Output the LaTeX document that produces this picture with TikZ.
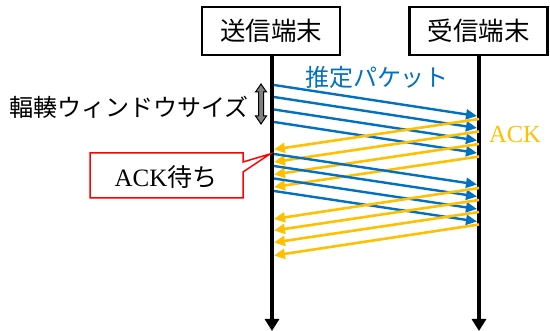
\documentclass[tikz,border=0pt]{standalone}
\usepackage{fontspec}
\setmainfont{Liberation Serif}
\newfontfamily\jp{Noto Sans CJK JP}
\usetikzlibrary{arrows.meta}
\definecolor{pblue}{HTML}{0070C0}
\definecolor{ackor}{HTML}{FFC000}
\definecolor{dgray}{HTML}{808080}
\tikzset{
  termbox/.style={draw=black, line width=2.5pt, minimum width=138pt, minimum height=48pt, inner sep=0pt, font=\jp\fontsize{25.5}{25.5}\selectfont},
  lifeline/.style={line width=3.5pt, -{Triangle[length=12pt,width=14pt]}},
  pkt/.style={pblue, line width=2.4pt, -{Triangle[length=11pt,width=10pt]}},
  ack/.style={ackor, line width=2.6pt, -{Triangle[length=11pt,width=10pt]}},
  lbl/.style={inner sep=0pt, font=\jp\fontsize{24}{24}\selectfont},
}
\begin{document}
\begin{tikzpicture}[x=1pt,y=-1pt]
\useasboundingbox (0,0) rectangle (550,331);
% terminals
\node[termbox] (snd) at (271,31) {送信端末};
\node[termbox] (rcv) at (478.5,31) {受信端末};
\coordinate (sndend) at (272,331);
\coordinate (rcvend) at (479,331);
\draw[lifeline] (snd.south -| sndend) -- (sndend);
\draw[lifeline] (rcv.south -| rcvend) -- (rcvend);
% labels
\node[lbl, text=pblue] (probe) at (377,77) {推定パケット};
\node[font=\fontsize{24.5}{24.5}\selectfont, text=ackor, inner sep=0pt] (acklbl) at (515,135) {ACK};
\node[lbl, anchor=east] (cwnd) at (249,107) {輻輳ウィンドウサイズ};
% window size double arrow
\draw[black, fill=dgray, line width=1pt] (261,84) -- (266.5,92) -- (263.5,92) -- (263.5,116) -- (266.5,116) -- (261,124) -- (255.5,116) -- (258.5,116) -- (258.5,92) -- (255.5,92) -- cycle;
% first window of probe packets
\foreach \a/\b in {85/116, 97/128, 109.5/140.5, 122/153}
  \draw[pkt] (274,\a) -- (477,\b);
% ACKs
\foreach \a/\b in {119/149.5, 131.5/162, 144/174.5, 156.5/187}
  \draw[ack] (479,\a) -- (274,\b);
% second window
\foreach \a/\b in {154/184.5, 166/196.5, 178.5/209, 191/221.5}
  \draw[pkt] (274,\a) -- (477,\b);
\foreach \a/\b in {188/219, 200/230.5, 212/242.5, 224.5/255.5}
  \draw[ack] (479,\a) -- (274,\b);
% callout
\draw[red, line width=1.5pt, fill=white, line join=miter] (90,153) -- (243,153) -- (243,162) -- (270,154) -- (243,172) -- (243,198) -- (90,198) -- cycle;
\node[inner sep=0pt, font=\fontsize{25}{25}\selectfont] (wait) at (166,177) {ACK{\jp 待ち}};
\end{tikzpicture}
\end{document}
